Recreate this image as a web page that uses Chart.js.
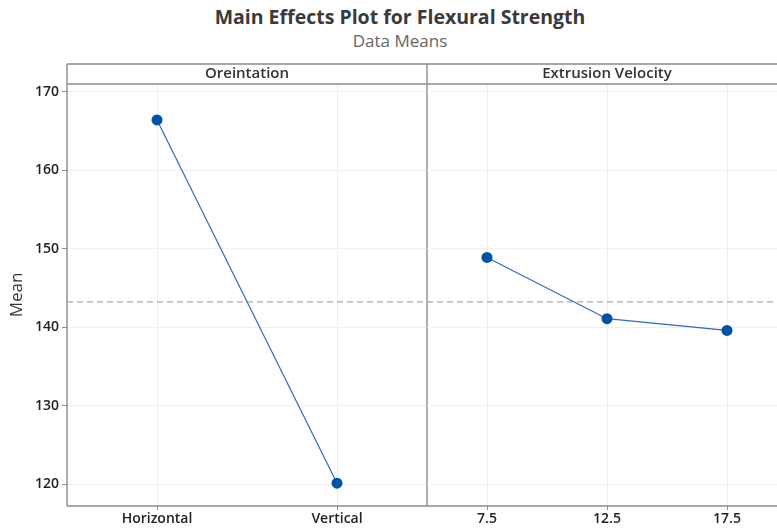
<!DOCTYPE html>
<html>
<head>
<meta charset="utf-8">
<script src="https://cdn.jsdelivr.net/npm/chart.js@4/dist/chart.umd.min.js"></script>
<style>
  html, body { margin:0; padding:0; width:777px; height:531px; overflow:hidden; background:#fff; }
  #wrap { position:relative; width:777px; height:531px; overflow:hidden; }
  .ttl { position:absolute; left:0; width:800px; text-align:center; font-family:"Open Sans", sans-serif; white-space:nowrap; }
  #t1 { top:3px; font-size:19.5px; font-weight:700; color:#3a3a3a; }
  #t2 { top:29px; font-size:17px; font-weight:400; color:#666; }
  canvas { position:absolute; top:0; }
  #c1 { left:0; }
  #c2 { left:427px; }
</style>
</head>
<body>
<div id="wrap">
  <div id="t1" class="ttl">Main Effects Plot for Flexural Strength</div>
  <div id="t2" class="ttl">Data Means</div>
  <canvas id="c1" width="430" height="531"></canvas>
  <canvas id="c2" width="362" height="531"></canvas>
</div>
<script>
// ---- data ----
const orientLabels = ['Horizontal', 'Vertical'];
const orientMeans = [166.4, 120.15];
const velocityLabels = ['7.5', '12.5', '17.5'];
const velocityMeans = [148.9, 141.1, 139.6];
const grandMean = 143.25;
const yTicks = [120, 130, 140, 150, 160, 170];
const panelTitles = ['Oreintation', 'Extrusion Velocity'];
const yMin = 117.25, yMax = 170.98;

const FONT = '"Open Sans", sans-serif';
const FRAME = '#8c8c8c';
const GRID = '#efefef';

const framePlugin = {
  id: 'frame',
  beforeDatasetsDraw(chart) {
    const { ctx, chartArea } = chart;
    const y = chart.scales.y.getPixelForValue(grandMean);
    ctx.save();
    ctx.strokeStyle = '#a8a8a8';
    ctx.lineWidth = 1.3;
    ctx.setLineDash([6, 4]);
    ctx.beginPath();
    ctx.moveTo(chartArea.left, y);
    ctx.lineTo(chartArea.right, y);
    ctx.stroke();
    ctx.restore();
  },
  afterDraw(chart, args, opts) {
    const { ctx, chartArea } = chart;
    const L = chartArea.left, R = chartArea.right, T = chartArea.top, B = chartArea.bottom;
    ctx.save();
    ctx.strokeStyle = FRAME;
    ctx.lineWidth = 1.4;
    ctx.beginPath();
    ctx.moveTo(L, T - 20); ctx.lineTo(R, T - 20);
    ctx.moveTo(L, T); ctx.lineTo(R, T);
    ctx.moveTo(L, B); ctx.lineTo(R, B);
    if (opts.left) { ctx.moveTo(L, T - 20); ctx.lineTo(L, B); }
    ctx.moveTo(R, T - 20); ctx.lineTo(R, B);
    ctx.stroke();
    ctx.fillStyle = '#333';
    ctx.font = '600 15px ' + FONT;
    ctx.textAlign = 'center';
    ctx.textBaseline = 'middle';
    ctx.fillText(opts.title, (L + R) / 2, T - 10);
    ctx.restore();
  }
};

function makeChart(id, labels, values, isLeft, title, padRight) {
  return new Chart(document.getElementById(id), {
    type: 'line',
    data: {
      labels: labels,
      datasets: [{
        data: values,
        borderColor: '#2a6bc0',
        borderWidth: 1.2,
        backgroundColor: '#0052a5',
        pointBackgroundColor: '#0052a5',
        pointBorderColor: '#0052a5',
        pointRadius: 5.5,
        pointBorderWidth: 0,
        tension: 0,
        clip: false
      }]
    },
    options: {
      responsive: false,
      animation: false,
      layout: { autoPadding: false, padding: { top: 84, bottom: 0, left: 0, right: padRight } },
      plugins: {
        legend: { display: false },
        tooltip: { enabled: false },
        frame: { title: title, left: isLeft }
      },
      scales: {
        x: {
          type: 'category',
          offset: true,
          grid: { offset: false, color: GRID, tickLength: 4, tickColor: '#8c8c8c' },
          border: { display: false },
          ticks: { color: '#222', font: { family: FONT, size: 14, weight: '600' }, padding: 1, maxRotation: 0 },
          afterFit(s) { s.height = 25; }
        },
        y: {
          min: yMin,
          max: yMax,
          afterBuildTicks(s) { s.ticks = yTicks.map(v => ({ value: v })); },
          grid: isLeft ? { color: GRID, tickLength: 5, tickColor: '#8c8c8c' } : { color: GRID, drawTicks: false },
          border: { display: false },
          ticks: isLeft ? { color: '#222', font: { family: FONT, size: 14, weight: '600' }, padding: 3 } : { display: false },
          title: isLeft ? { display: true, text: 'Mean', color: '#333', font: { family: FONT, size: 17, weight: '500' }, padding: { top: 7, bottom: 0 } } : { display: false },
          afterFit(s) { s.width = isLeft ? 67 : 0; }
        }
      }
    },
    plugins: [framePlugin]
  });
}

makeChart('c1', orientLabels, orientMeans, true, panelTitles[0], 3);
makeChart('c2', velocityLabels, velocityMeans, false, panelTitles[1], 2);
</script>
</body>
</html>
